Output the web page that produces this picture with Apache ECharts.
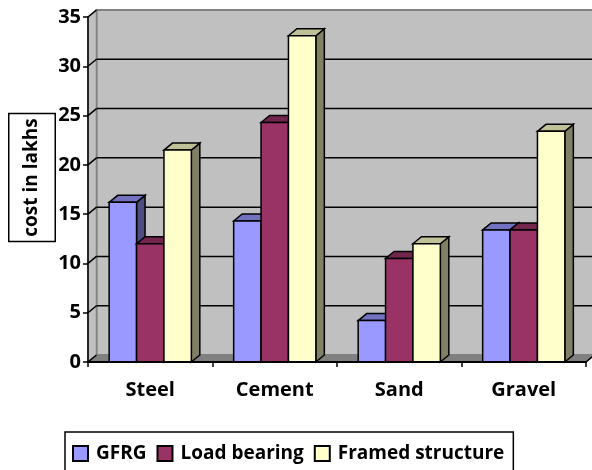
<!DOCTYPE html>
<html>
<head>
<meta charset="utf-8">
<style>
  html, body { margin: 0; background: #fff; overflow: hidden; }
  #chart { width: 592px; height: 470px; }
</style>
<script src="https://cdn.jsdelivr.net/npm/echarts@6/dist/echarts.min.js"></script>
</head>
<body>
<div id="chart"></div>
<script>
const categories = ['Steel', 'Cement', 'Sand', 'Gravel']
const gfrg = [16.2, 14.3, 4.2, 13.4]
const loadBearing = [12, 24.3, 10.5, 13.4]
const framedStructure = [21.5, 33.1, 12, 23.4]
const yTicks = [0, 5, 10, 15, 20, 25, 30, 35]

// 3d look: faces are shifted by this much from the front plane
const DEPTH_X = 8.5
const DEPTH_Y = -7
const FONT = '"Open Sans", sans-serif'

const chart = echarts.init(document.getElementById('chart'))

const poly = (points, fill, stroke, lineWidth) => ({
  type: 'polygon',
  shape: { points },
  style: { fill, stroke, lineWidth }
})

const line = (x1, y1, x2, y2, stroke, lineWidth) => ({
  type: 'line',
  shape: { x1, y1, x2, y2 },
  style: { stroke, lineWidth }
})

// back wall, side wall, floor and the gridlines
const renderWalls = (params, api) => {
  const area = params.coordSys
  const left = area.x
  const right = area.x + area.width
  const bottom = api.coord([0, 0])[1]
  const top = api.coord([0, yTicks[yTicks.length - 1]])[1]
  const bx = left + DEPTH_X
  const children = [
    poly([[bx, top + DEPTH_Y], [right + DEPTH_X, top + DEPTH_Y], [right + DEPTH_X, bottom + DEPTH_Y], [bx, bottom + DEPTH_Y]], '#c0c0c0', '#808080', 2),
    poly([[left, top], [bx, top + DEPTH_Y], [bx, bottom + DEPTH_Y], [left, bottom]], '#c0c0c0', '#808080', 1.5),
    poly([[left, bottom], [bx, bottom + DEPTH_Y], [right + DEPTH_X, bottom + DEPTH_Y], [right, bottom]], '#808080', '#808080', 1)
  ]
  yTicks.slice(1, -1).forEach(t => {
    const y = api.coord([0, t])[1]
    children.push(line(left, y, bx, y + DEPTH_Y, '#000', 1.5))
    children.push(line(bx, y + DEPTH_Y, right + DEPTH_X, y + DEPTH_Y, '#000', 1.5))
  })
  children.push(line(left, top, bx, top + DEPTH_Y, '#000', 1.5))
  children.push(line(left, bottom, bx, bottom + DEPTH_Y, '#000', 1.5))
  children.push(line(right, bottom, right + DEPTH_X, bottom + DEPTH_Y, '#000', 1.5))
  return { type: 'group', children }
}

const makeBarRenderer = (seriesIndex, front, topFace, sideFace) => (params, api) => {
  const catWidth = api.size([1, 0])[0]
  const barWidth = catWidth * 0.22
  const center = api.coord([api.value(0), 0])[0]
  const x = center + (seriesIndex - 1.5) * barWidth
  const y = api.coord([0, api.value(1)])[1]
  const base = api.coord([0, 0])[1]
  const x2 = x + barWidth
  return {
    type: 'group',
    children: [
      poly([[x2, y], [x2 + DEPTH_X, y + DEPTH_Y], [x2 + DEPTH_X, base + DEPTH_Y], [x2, base]], sideFace, '#000', 1.5),
      poly([[x, y], [x + DEPTH_X, y + DEPTH_Y], [x2 + DEPTH_X, y + DEPTH_Y], [x2, y]], topFace, '#000', 1.5),
      poly([[x, y], [x2, y], [x2, base], [x, base]], front, '#000', 1.5)
    ]
  }
}

const barSeries = (name, values, idx, front, topFace, sideFace) => ({
  name,
  type: 'custom',
  renderItem: makeBarRenderer(idx, front, topFace, sideFace),
  encode: { x: 0, y: 1 },
  itemStyle: { color: front, borderColor: '#000', borderWidth: 1.5 },
  data: values.map((v, i) => [i, v]),
  z: 3 + idx
})

chart.setOption({
  animation: false,
  backgroundColor: '#fff',
  grid: { left: 88, right: 6, top: 17, bottom: 108, outerBoundsMode: 'none' },
  // the axis title sits above the middle of the axis, so it is placed by hand
  graphic: [{
    type: 'text',
    x: 32,
    y: 177.5,
    rotation: Math.PI / 2,
    z: 20,
    style: {
      text: 'cost in lakhs',
      font: 'bold 19px "Open Sans", sans-serif',
      fill: '#000',
      align: 'center',
      verticalAlign: 'middle',
      backgroundColor: '#fff',
      borderColor: '#000',
      borderWidth: 1.5,
      padding: [13, 4, 13, 4]
    }
  }],
  legend: {
    left: 65,
    top: 432,
    padding: [12, 9, 14, 7],
    itemGap: 10,
    itemWidth: 15,
    itemHeight: 15,
    icon: 'rect',
    borderColor: '#000',
    borderWidth: 1.5,
    textStyle: { fontFamily: FONT, fontWeight: 'bold', fontSize: 19, color: '#000', padding: [0, 0, 0, 3] },
    data: ['GFRG', 'Load bearing', 'Framed structure']
  },
  xAxis: {
    type: 'category',
    data: categories,
    axisLine: { lineStyle: { color: '#000', width: 2 } },
    axisTick: { show: true, length: 5, lineStyle: { color: '#000', width: 1.5 } },
    axisLabel: { fontFamily: FONT, fontWeight: 'bold', fontSize: 20, color: '#000', margin: 18 },
    z: 10
  },
  yAxis: {
    type: 'value',
    min: 0,
    max: 35,
    interval: 5,
    splitLine: { show: false },
    axisLine: { show: true, lineStyle: { color: '#000', width: 1.5 } },
    axisTick: { show: true, length: 5, lineStyle: { color: '#000', width: 1.5 } },
    axisLabel: { fontFamily: FONT, fontWeight: 'bold', fontSize: 20, color: '#000', margin: 7 },
    z: 10
  },
  series: [
    { type: 'custom', renderItem: renderWalls, data: [[0, 0]], encode: { x: 0, y: 1 }, silent: true, z: 1 },
    barSeries('GFRG', gfrg, 0, '#9999ff', '#7272c0', '#4d4d80'),
    barSeries('Load bearing', loadBearing, 1, '#993366', '#73264d', '#4d1a33'),
    barSeries('Framed structure', framedStructure, 2, '#ffffcc', '#c0c099', '#808066')
  ]
})
</script>
</body>
</html>
